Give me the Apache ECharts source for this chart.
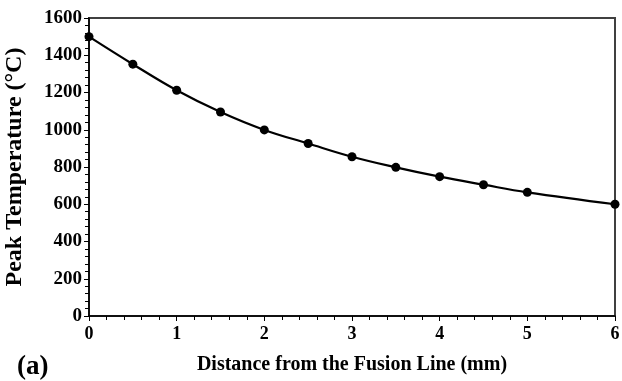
<!DOCTYPE html>
<html>
<head>
<meta charset="utf-8">
<script src="https://cdn.jsdelivr.net/npm/echarts@6/dist/echarts.min.js"></script>
<style>
  html, body { margin: 0; padding: 0; background: #fff; }
  #chart { width: 622px; height: 381px; }
</style>
</head>
<body>
<div id="chart"></div>
<script>
// distance from fusion line (mm) and peak temperature (°C)
var distance = [0, 0.5, 1, 1.5, 2, 2.5, 3, 3.5, 4, 4.5, 5, 6];
var peakTemp = [1500, 1352, 1212, 1095, 999, 926, 855, 798, 748, 705, 664, 600];

var font = "'Liberation Serif', 'Times New Roman', serif";

var chart = echarts.init(document.getElementById("chart"));
chart.setOption({
  animation: false,
  title: {
    text: "(a)",
    left: 12,
    top: 349,
    textStyle: { fontFamily: font, fontWeight: "bold", fontSize: 27, color: "#000" },
  },
  grid: {
    left: 89,
    right: 7,
    top: 18,
    bottom: 65,
    outerBoundsMode: "none",
    show: true,
    borderColor: "#404040",
    borderWidth: 2,
  },
  xAxis: {
    type: "value",
    min: 0,
    max: 6,
    interval: 1,
    name: "Distance from the Fusion Line (mm)",
    nameLocation: "middle",
    nameGap: 39,
    nameTextStyle: { fontFamily: font, fontWeight: "bold", fontSize: 20, color: "#000" },
    axisLine: { lineStyle: { color: "#000", width: 1.5 } },
    axisTick: { inside: false, length: 5, lineStyle: { color: "#000" } },
    minorTick: { show: true, splitNumber: 5, length: 4, lineStyle: { color: "#000" } },
    splitLine: { show: false },
    axisLabel: {
      fontFamily: font, fontWeight: "bold", fontSize: 18, color: "#000", margin: 9,
      formatter: function (v) { return String(v); },
    },
  },
  yAxis: {
    type: "value",
    min: 0,
    max: 1600,
    interval: 200,
    name: "Peak Temperature (°C)",
    nameLocation: "middle",
    nameGap: 62,
    nameTextStyle: { fontFamily: font, fontWeight: "bold", fontSize: 24, color: "#000" },
    axisLine: { show: true, lineStyle: { color: "#000", width: 1.5 } },
    axisTick: { show: true, inside: false, length: 5, lineStyle: { color: "#000" } },
    minorTick: { show: true, splitNumber: 5, length: 4, lineStyle: { color: "#000" } },
    splitLine: { show: false },
    axisLabel: {
      fontFamily: font, fontWeight: "bold", fontSize: 19, color: "#000", margin: 7,
      formatter: function (v) { return String(v); },
    },
  },
  series: [
    {
      type: "line",
      data: distance.map(function (d, i) { return [d, peakTemp[i]]; }),
      smooth: 0.4,
      symbol: "circle",
      symbolSize: 9,
      lineStyle: { color: "#000", width: 2.2 },
      itemStyle: { color: "#000" },
      clip: false,
    },
  ],
});
</script>
</body>
</html>
